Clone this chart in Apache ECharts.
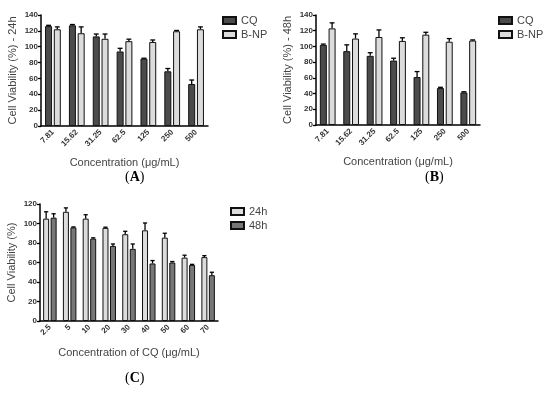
<!DOCTYPE html>
<html><head><meta charset="utf-8">
<script src="https://cdn.jsdelivr.net/npm/echarts@6/dist/echarts.min.js"></script>
<style>html,body{margin:0;padding:0;background:#fff}#c{width:550px;height:393px}</style>
</head><body><div id="c"></div>
<script>
// ---- Data ----
const concAB = ['7.81','15.62','31.25','62.5','125','250','500'];
const cq24 = [126,127,113,94,85,69,53];
const cq24Err = [1,1,3,4,0.5,3.5,5];
const bnp24 = [122,117,110,107,106,119.5,122];
const bnp24Err = [3,8,6,2.5,2.5,1,3];
const cq48 = [102,94,88,82,61,47,41.5];
const cq48Err = [1,8,4,3,7,1,0.8];
const bnp48 = [123,110,112,107,115,106,107.5];
const bnp48Err = [7,6,9,4,3,4,0.8];
const concC = ['2.5','5','10','20','30','40','50','60','70'];
const c24 = [105,112,105,95.5,89,93,85.5,65,65.5];
const c24Err = [7,4,4,0.7,3,7.5,4.5,2.5,1.5];
const c48 = [106,96,84.5,77,74,59,60,57.5,47];
const c48Err = [4,0.5,0.8,2,5,3,1,0.6,3];
const yTicksAB = [0,140,20];
const yTicksC = [0,120,20];

const DARK = '#4b4b4b', LIGHT = '#dcdcdc', MID = '#777777';
const LBL = '#333', TITLE = '#444';
const FONT = 'Liberation Sans, Arial, sans-serif';

function errSeries(name, axisIdx, vals, errs, sign, bw) {
  return {
    type: 'custom', name: name + ' err', xAxisIndex: axisIdx, yAxisIndex: axisIdx, z: 5,
    silent: true,
    data: vals.map((v, i) => [i, v, errs[i]]),
    renderItem: function (params, api) {
      const i = api.value(0), v = api.value(1), e = api.value(2);
      const p0 = api.coord([i, v]);
      const p1 = api.coord([i, v + e]);
      const off = sign * (bw / 2 + bw * 0.25 / 2);
      const x = p0[0] + off;
      const cap = bw * 0.7;
      return {
        type: 'group', children: [
          { type: 'line', shape: { x1: x, y1: p0[1], x2: x, y2: p1[1] }, style: { stroke: '#000', lineWidth: 1.3 } },
          { type: 'line', shape: { x1: x - cap / 2, y1: p1[1], x2: x + cap / 2, y2: p1[1] }, style: { stroke: '#000', lineWidth: 1.3 } }
        ]
      };
    }
  };
}
function barSeries(name, axisIdx, vals, color, bw) {
  return {
    type: 'bar', name: name, xAxisIndex: axisIdx, yAxisIndex: axisIdx,
    data: vals, barWidth: bw, barGap: '25%',
    itemStyle: { color: color, borderColor: '#111', borderWidth: 1 }
  };
}
function xAx(idx, cats, name, gap) {
  return {
    type: 'category', gridIndex: idx, data: cats,
    name: name, nameLocation: 'middle', nameGap: gap,
    nameTextStyle: { fontSize: 11, color: TITLE, fontFamily: FONT },
    axisLine: { lineStyle: { color: '#000', width: 1.5 } },
    axisTick: { alignWithLabel: true, length: 4, lineStyle: { color: '#000', width: 1.3 } },
    axisLabel: { rotate: 45, fontSize: 8, fontWeight: 'bold', color: LBL, fontFamily: FONT, margin: 5, interval: 0 }
  };
}
function yAx(idx, ticks, name) {
  return {
    type: 'value', gridIndex: idx, min: ticks[0], max: ticks[1], interval: ticks[2],
    name: name, nameLocation: 'middle', nameGap: 23,
    nameTextStyle: { fontSize: 11, color: TITLE, fontFamily: FONT },
    axisLine: { show: true, lineStyle: { color: '#000', width: 1.5 } },
    axisTick: { show: true, length: 3, lineStyle: { color: '#000', width: 1.3 } },
    splitLine: { show: false },
    axisLabel: { fontSize: 8, fontWeight: 'bold', color: LBL, fontFamily: FONT, margin: 3 }
  };
}
function legend(left, top, names) {
  return {
    left: left, top: top, orient: 'vertical', data: names, icon: 'rect',
    itemWidth: 13, itemHeight: 7, itemGap: 3, padding: 0,
    textStyle: { fontSize: 11, color: TITLE, fontFamily: FONT }
  };
}
function panelLabel(letter, cx, cy) {
  return {
    type: 'text', left: cx - 12, top: cy - 9,
    style: {
      text: '{p|(}{b|' + letter + '}{p|)}',
      rich: {
        p: { fontSize: 14, fontFamily: 'Liberation Serif, Times New Roman, serif', fill: '#000' },
        b: { fontSize: 14, fontWeight: 'bold', fontFamily: 'Liberation Serif, Times New Roman, serif', fill: '#000' }
      }
    }
  };
}

const chart = echarts.init(document.getElementById('c'), null, { renderer: 'canvas' });
chart.setOption({
  animation: false,
  textStyle: { fontFamily: FONT },
  grid: [
    { left: 41, top: 15, width: 167, height: 111 },
    { left: 316, top: 15, width: 164, height: 110 },
    { left: 40, top: 204, width: 178, height: 117 }
  ],
  xAxis: [
    xAx(0, concAB, 'Concentration (μg/mL)', 31),
    xAx(1, concAB, 'Concentration (μg/mL)', 31),
    xAx(2, concC, 'Concentration of CQ (μg/mL)', 26)
  ],
  yAxis: [
    yAx(0, yTicksAB, 'Cell Viability (%) - 24h'),
    yAx(1, yTicksAB, 'Cell Viability (%) - 48h'),
    yAx(2, yTicksC, 'Cell Viability (%)')
  ],
  legend: [
    legend(222, 15, ['CQ', 'B-NP']),
    legend(498, 15, ['CQ', 'B-NP']),
    legend(230, 206, ['24h', '48h'])
  ],
  series: [
    barSeries('CQ', 0, cq24, DARK, 7),
    barSeries('B-NP', 0, bnp24, LIGHT, 7),
    errSeries('CQ', 0, cq24, cq24Err, -1, 7),
    errSeries('B-NP', 0, bnp24, bnp24Err, 1, 7),
    barSeries('CQ', 1, cq48, DARK, 7),
    barSeries('B-NP', 1, bnp48, LIGHT, 7),
    errSeries('CQ', 1, cq48, cq48Err, -1, 7),
    errSeries('B-NP', 1, bnp48, bnp48Err, 1, 7),
    barSeries('24h', 2, c24, LIGHT, 6),
    barSeries('48h', 2, c48, MID, 6),
    errSeries('24h', 2, c24, c24Err, -1, 6),
    errSeries('48h', 2, c48, c48Err, 1, 6)
  ],
  graphic: [
    panelLabel('A', 137, 179),
    panelLabel('B', 437, 179),
    panelLabel('C', 137, 380)
  ]
});
</script></body></html>
